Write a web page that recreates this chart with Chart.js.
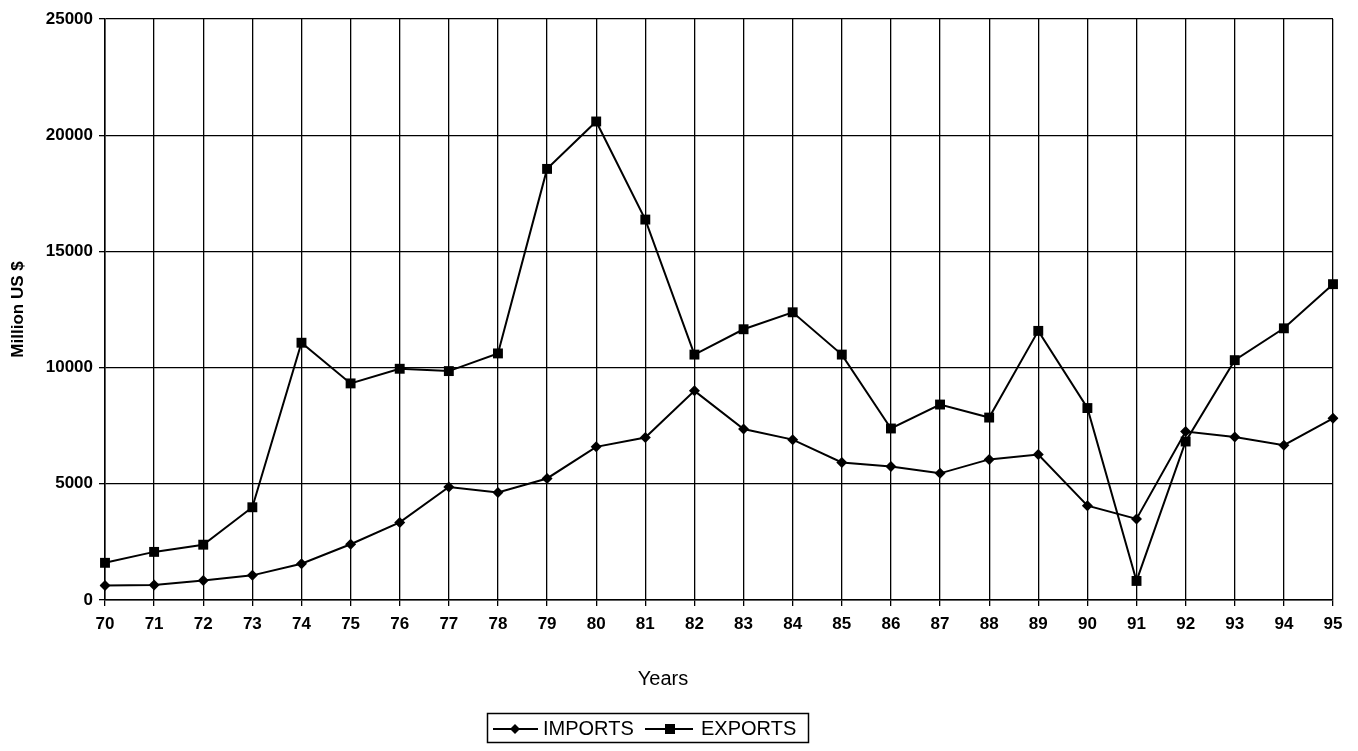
<!DOCTYPE html>
<html>
<head>
<meta charset="utf-8">
<script src="https://cdn.jsdelivr.net/npm/chart.js@4.4.0/dist/chart.umd.min.js"></script>
<style>
    html, body { margin: 0; padding: 0; background: #fff; }
    #wrap { width: 1358px; height: 751px; position: relative; }
</style>
</head>
<body>
<div id="wrap"><canvas id="chartCanvas"></canvas></div>
<script>
    // years on the x axis
    const years = ['70', '71', '72', '73', '74', '75', '76', '77', '78', '79', '80', '81', '82',
        '83', '84', '85', '86', '87', '88', '89', '90', '91', '92', '93', '94', '95'];

    // Million US $
    const importData = [620, 650, 840, 1060, 1560, 2400, 3340, 4860, 4630, 5230, 6590, 6990, 9000,
        7360, 6900, 5920, 5740, 5450, 6050, 6260, 4060, 3490, 7250, 7010, 6660, 7820];
    const exportData = [1600, 2070, 2380, 3990, 11070, 9320, 9950, 9850, 10610, 18550, 20590, 16370, 10560,
        11650, 12380, 10560, 7380, 8410, 7850, 11580, 8260, 820, 6820, 10320, 11690, 13590];

    const yTicks = [0, 5000, 10000, 15000, 20000, 25000];

    const FONT = 'Arial, "Liberation Sans", sans-serif';

    // draws "Years" and the boxed legend under the axis
    const legendBox = {
        id: 'legendBox',
        afterDraw(chart) {
            const ctx = chart.ctx;
            ctx.save();
            ctx.fillStyle = '#000';
            ctx.strokeStyle = '#000';
            ctx.font = '20px ' + FONT;
            ctx.textBaseline = 'middle';
            ctx.textAlign = 'center';
            ctx.fillText('Years', 663, 679);

            // box
            ctx.lineWidth = 1.5;
            ctx.strokeRect(487.5, 713.5, 321, 29);

            const cy = 729;
            ctx.lineWidth = 2;
            // imports item
            ctx.beginPath();
            ctx.moveTo(493, cy); ctx.lineTo(538, cy);
            ctx.stroke();
            ctx.beginPath();
            ctx.moveTo(515 - 5, cy); ctx.lineTo(515, cy - 5); ctx.lineTo(515 + 5, cy); ctx.lineTo(515, cy + 5);
            ctx.closePath();
            ctx.fill();
            // exports item
            ctx.beginPath();
            ctx.moveTo(645, cy); ctx.lineTo(693, cy);
            ctx.stroke();
            ctx.fillRect(665, cy - 5, 10, 10);

            ctx.textAlign = 'left';
            ctx.fillText('IMPORTS', 543, cy);
            ctx.fillText('EXPORTS', 701, cy);
            ctx.restore();
        }
    };

    const ctx = document.getElementById('chartCanvas');

    const chart = new Chart(ctx, {
        type: 'line',
        data: {
            labels: years,
            datasets: [
                {
                    label: 'IMPORTS',
                    data: importData,
                    borderColor: '#000',
                    backgroundColor: '#000',
                    borderWidth: 2,
                    pointStyle: 'rectRot',
                    pointRadius: 5.5,
                    pointBorderWidth: 0,
                    tension: 0,
                    fill: false
                },
                {
                    label: 'EXPORTS',
                    data: exportData,
                    borderColor: '#000',
                    backgroundColor: '#000',
                    borderWidth: 2,
                    pointStyle: 'rect',
                    pointRadius: 7,
                    pointBorderWidth: 0,
                    tension: 0,
                    fill: false
                }
            ]
        },
        options: {
            responsive: true,
            maintainAspectRatio: false,
            animation: false,
            layout: { padding: { top: 19, right: 25, bottom: 0, left: 0 } },
            plugins: {
                legend: { display: false },
                tooltip: { enabled: false }
            },
            scales: {
                x: {
                    offset: false,
                    grid: { color: '#000', lineWidth: 1.3, tickLength: 6, drawTicks: true },
                    border: { color: '#000', width: 1.5 },
                    ticks: {
                        color: '#000',
                        font: { family: FONT, size: 17, weight: 'bold' },
                        padding: 8,
                        maxRotation: 0,
                        autoSkip: false
                    },
                    afterFit: function (scale) { scale.height = 151; }
                },
                y: {
                    min: 0,
                    max: 25000,
                    afterBuildTicks: function (scale) {
                        scale.ticks = yTicks.map(v => ({ value: v }));
                    },
                    grid: { color: '#000', lineWidth: 1.3, tickLength: 6, drawTicks: true },
                    border: { color: '#000', width: 1.5 },
                    ticks: {
                        color: '#000',
                        font: { family: FONT, size: 17, weight: 'bold' },
                        padding: 6,
                        callback: function (value) { return String(value); }
                    },
                    title: {
                        display: true,
                        text: 'Million US $',
                        color: '#000',
                        font: { family: FONT, size: 17, weight: 'bold' },
                        padding: { top: 8, bottom: 0 }
                    },
                    afterFit: function (scale) { scale.width = 105; }
                }
            }
        },
        plugins: [legendBox]
    });
</script>
</body>
</html>
